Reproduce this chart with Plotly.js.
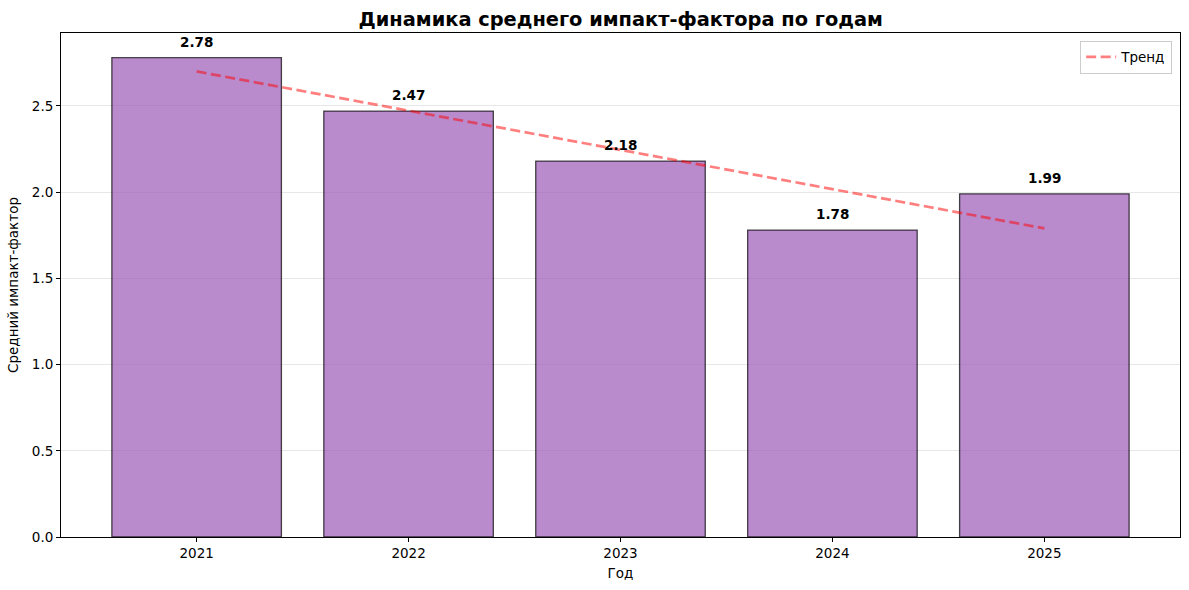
<!DOCTYPE html>
<html>
<head>
<meta charset="utf-8">
<script src="https://cdn.plot.ly/plotly-3.0.1.min.js"></script>
<style>
  html, body { margin: 0; padding: 0; background: #fff; }
  #chart { width: 1189px; height: 590px; }
</style>
</head>
<body>
<div id="chart"></div>
<script>
// values
var years = [2021, 2022, 2023, 2024, 2025];
var impact = [2.78, 2.47, 2.18, 1.78, 1.99];
var valueLabels = ["2.78", "2.47", "2.18", "1.78", "1.99"];
// trend line end points
var trendYears = [2021, 2025];
var trendValues = [2.70, 1.79];

var font = "DejaVu Sans, sans-serif";

var bars = {
  type: "bar",
  x: years,
  y: impact,
  width: 0.8,
  marker: {
    color: "rgba(155,89,182,0.7)",
    line: { color: "rgba(0,0,0,0.7)", width: 1.3 }
  },
  showlegend: false,
  hoverinfo: "x+y"
};

var trend = {
  type: "scatter",
  mode: "lines",
  x: trendYears,
  y: trendValues,
  name: "Тренд",
  line: { color: "rgba(255,0,0,0.5)", width: 2.7, dash: "10px,4.5px" }
};

var notes = years.map(function(yr, i) {
  return {
    x: yr,
    y: impact[i],
    text: "<b>" + valueLabels[i] + "</b>",
    showarrow: false,
    yanchor: "bottom",
    yshift: 6,
    font: { family: font, size: 13.5, color: "#000" }
  };
});

var layout = {
  width: 1189,
  height: 590,
  margin: { l: 61, r: 9, t: 33, b: 53 },
  paper_bgcolor: "#fff",
  plot_bgcolor: "#fff",
  font: { family: font, size: 13.5, color: "#000" },
  title: {
    text: "<b>Динамика среднего импакт-фактора по годам</b>",
    font: { family: font, size: 19.4, color: "#000" },
    x: 0.522, xanchor: "center", y: 0.968, yanchor: "middle"
  },
  xaxis: {
    range: [2020.36, 2025.64],
    tickvals: years,
    ticktext: years.map(String),
    ticks: "outside", ticklen: 4, tickcolor: "#000",
    showline: true, linecolor: "#000", linewidth: 1, mirror: true,
    showgrid: false, zeroline: false,
    tickfont: { size: 13.5 },
    title: { text: "Год", font: { size: 13.5 }, standoff: 8 }
  },
  yaxis: {
    range: [0, 2.923],
    tickvals: [0, 0.5, 1, 1.5, 2, 2.5],
    ticktext: ["0.0", "0.5", "1.0", "1.5", "2.0", "2.5"],
    ticks: "outside", ticklen: 4, tickcolor: "#000",
    showline: true, linecolor: "#000", linewidth: 1, mirror: true,
    showgrid: true, gridcolor: "rgba(176,176,176,0.3)", gridwidth: 1,
    zeroline: false,
    tickfont: { size: 13.5 },
    title: { text: "Средний импакт-фактор", font: { size: 13.5 }, standoff: 10 }
  },
  legend: {
    x: 0.993, xanchor: "right", y: 0.985, yanchor: "top",
    bordercolor: "#ccc", borderwidth: 1, bgcolor: "rgba(255,255,255,0.8)",
    font: { size: 13.5 }
  },
  annotations: notes,
  bargap: 0.2
};

Plotly.newPlot("chart", [bars, trend], layout, { displayModeBar: false });
</script>
</body>
</html>
